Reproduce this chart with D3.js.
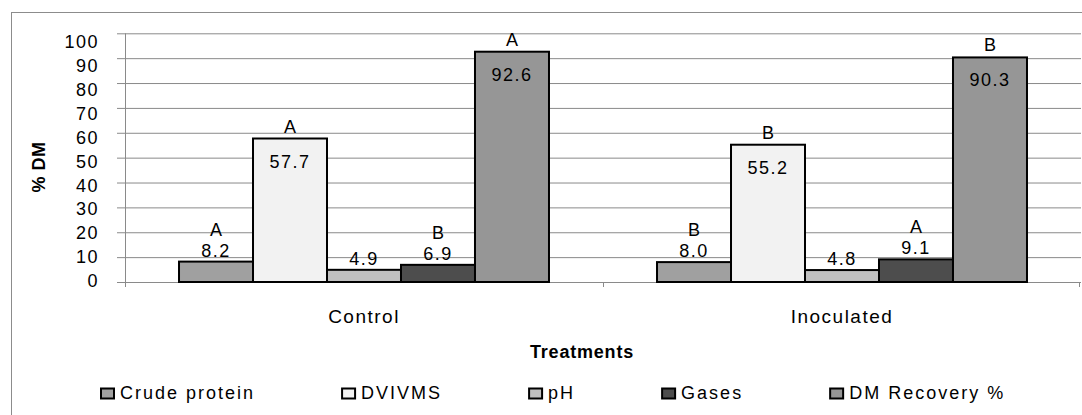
<!DOCTYPE html>
<html>
<head>
<meta charset="utf-8">
<script src="https://cdn.jsdelivr.net/npm/d3@7"></script>
<style>
  body { margin: 0; background: #fff; }
  text { font-family: "Liberation Sans", Arial, sans-serif; fill: #000; }
</style>
</head>
<body>
<script>
// data
var categories = ["Control", "Inoculated"];
var series = ["Crude protein", "DVIVMS", "pH", "Gases", "DM Recovery %"];
var colors = ["#a0a0a0", "#f2f2f2", "#c0c0c0", "#4d4d4d", "#969696"];
var controlValues = [8.2, 57.7, 4.9, 6.9, 92.6];
var inoculatedValues = [8.0, 55.2, 4.8, 9.1, 90.3];
var controlLetters = ["A", "A", "", "B", "A"];
var inoculatedLetters = ["B", "B", "", "A", "B"];
var yTicks = [0, 10, 20, 30, 40, 50, 60, 70, 80, 90, 100];

var width = 1082, height = 415;
var plot = {left: 125, right: 1081, top: 33.3, bottom: 282};

var svg = d3.select("body").append("svg")
    .attr("width", width)
    .attr("height", height);

// chart border (cropped at right / bottom like the picture)
svg.append("rect")
    .attr("x", 11.5).attr("y", 12.5)
    .attr("width", 1200).attr("height", 600)
    .attr("fill", "none")
    .attr("stroke", "#8c8c8c");

var x0 = d3.scaleBand()
    .domain(categories)
    .range([plot.left, plot.right])
    .padding(0);

var x1 = d3.scaleBand()
    .domain(series)
    .range([0, x0.bandwidth()])
    .paddingInner(0)
    .paddingOuter(0.73);

var y = d3.scaleLinear()
    .domain([0, 100])
    .range([plot.bottom, plot.top]);

// tick labels sit a bit tighter than the gridlines in the original
var yLab = d3.scaleLinear()
    .domain([0, 100])
    .range([281, 41.6]);

// gridlines
svg.append("g")
    .attr("transform", "translate(" + plot.left + ",0)")
    .call(d3.axisLeft(y).tickValues(yTicks).tickSize(-(plot.right - plot.left)).tickFormat(""))
    .call(g => g.select(".domain").remove())
    .call(g => g.selectAll(".tick line")
        .attr("stroke", "#8a8a8a")
        .attr("x1", -8));

// y axis line
svg.append("line")
    .attr("x1", plot.left + 0.5).attr("x2", plot.left + 0.5)
    .attr("y1", plot.top).attr("y2", plot.bottom + 5)
    .attr("stroke", "#8a8a8a");

// y tick labels
svg.append("g")
    .attr("transform", "translate(99,0)")
    .call(d3.axisLeft(yLab).tickValues(yTicks).tickSize(0).tickPadding(0))
    .call(g => g.select(".domain").remove())
    .call(g => g.selectAll("text")
        .attr("text-anchor", "end")
        .style("font-size", "18px")
        .style("letter-spacing", "1.5px")
        .style("font-family", "Liberation Sans, Arial, sans-serif")
        .attr("fill", "#000"));

// x axis
svg.append("g")
    .attr("transform", "translate(0," + plot.bottom + ")")
    .call(d3.axisBottom(x0).tickSize(0).tickFormat(""))
    .call(g => g.select(".domain").attr("stroke", "#8a8a8a").attr("d", "M" + (plot.left - 8) + ",0.5H" + plot.right));

// category separator ticks
svg.append("g").selectAll("line")
    .data(categories.concat(["end"]))
    .join("line")
    .attr("x1", (d, i) => i < categories.length ? x0(d) + 0.5 : plot.right - 1.5)
    .attr("x2", (d, i) => i < categories.length ? x0(d) + 0.5 : plot.right - 1.5)
    .attr("y1", plot.bottom)
    .attr("y2", plot.bottom + 5)
    .attr("stroke", "#8a8a8a");

// category labels
svg.append("g").selectAll("text")
    .data(categories)
    .join("text")
    .attr("x", d => x0(d) + x0.bandwidth() / 2)
    .attr("y", 323)
    .attr("text-anchor", "middle")
    .style("font-size", "19px")
    .style("letter-spacing", "1.5px")
    .text(d => d);

// axis titles
svg.append("text")
    .attr("x", 582)
    .attr("y", 358)
    .attr("text-anchor", "middle")
    .style("font-size", "18px")
    .style("font-weight", "bold")
    .style("letter-spacing", "0.8px")
    .text("Treatments");

svg.append("text")
    .attr("transform", "translate(45,167) rotate(-90)")
    .attr("text-anchor", "middle")
    .style("font-size", "18px")
    .style("font-weight", "bold")
    .style("letter-spacing", "0.5px")
    .text("% DM");

// bars
var rows = [
    {cat: "Control", values: controlValues, letters: controlLetters},
    {cat: "Inoculated", values: inoculatedValues, letters: inoculatedLetters}
];

var groups = svg.append("g").selectAll("g")
    .data(rows)
    .join("g")
    .attr("transform", d => "translate(" + x0(d.cat) + ",0)");

var items = groups.selectAll("g")
    .data(d => series.map((s, i) => ({s: s, i: i, v: d.values[i], l: d.letters[i]})))
    .join("g");

items.append("rect")
    .attr("x", d => x1(d.s))
    .attr("y", d => y(d.v))
    .attr("width", x1.bandwidth())
    .attr("height", d => y(0) - y(d.v))
    .attr("fill", d => colors[d.i])
    .attr("stroke", "#000")
    .attr("stroke-width", 2);

function valueBase(d) {
    return d.v > 20 ? y(d.v) + 29 : y(d.v) - 5;
}

items.append("text")
    .attr("x", d => x1(d.s) + x1.bandwidth() / 2)
    .attr("y", valueBase)
    .attr("text-anchor", "middle")
    .style("font-size", "18px")
    .style("letter-spacing", "1.5px")
    .text(d => d.v.toFixed(1));

items.append("text")
    .attr("x", d => x1(d.s) + x1.bandwidth() / 2)
    .attr("y", d => d.v > 20 ? y(d.v) - 6 : valueBase(d) - 21)
    .attr("text-anchor", "middle")
    .style("font-size", "18px")
    .text(d => d.l);

// legend
var legend = svg.append("g").attr("transform", "translate(100,0)");
var lx = 0;
series.forEach(function (s, i) {
    var g = legend.append("g").attr("transform", "translate(" + lx + ",0)");
    g.append("rect")
        .attr("x", 1).attr("y", 388.5)
        .attr("width", 13).attr("height", 10)
        .attr("fill", colors[i])
        .attr("stroke", "#000")
        .attr("stroke-width", 2);
    var t = g.append("text")
        .attr("x", 20)
        .attr("y", 399)
        .style("font-size", "18px")
        .style("letter-spacing", "2px")
        .text(s);
    lx += 20 + t.node().getComputedTextLength() + 86;
});
</script>
</body>
</html>
